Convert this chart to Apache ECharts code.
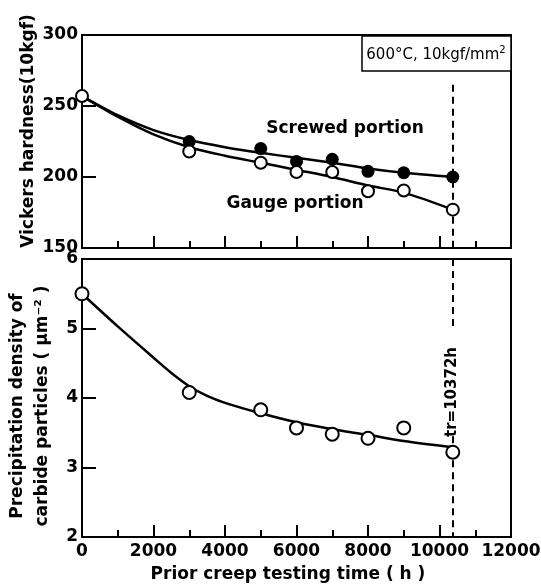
<!DOCTYPE html>
<html>
<head>
<meta charset="utf-8">
<script src="https://cdn.jsdelivr.net/npm/echarts@6/dist/echarts.min.js"></script>
<style>
  html, body { margin: 0; padding: 0; background: #fff; }
  #chart { width: 541px; height: 584px; }
</style>
</head>
<body>
<div id="chart"></div>
<script>
// x ticks (h)
const timeTicks = [0, 2000, 4000, 6000, 8000, 10000, 12000];
const ruptureTime = 10372;

// Vickers hardness, measured points
const screwedTimes = [3000, 5000, 6000, 7000, 8000, 9000, 10372];
const screwedHv = [225, 220, 211, 212.5, 204, 203, 200];
const gaugeTimes = [0, 3000, 5000, 6000, 7000, 8000, 9000, 10372];
const gaugeHv = [257, 218, 210, 203.5, 203.5, 190, 190.5, 177];

// hand-drawn fit curves
const fitTimes = [0, 1000, 2000, 3000, 4000, 5000, 6000, 7000, 8000, 9000, 10372];
const screwedFit = [257, 243.5, 233, 226, 221, 217, 213.5, 210, 206, 203, 200];
const gaugeFit = [257, 242.5, 230, 221, 215, 210, 205, 200, 194, 189, 177];

const densityFitTimes = [0, 1000, 2000, 2500, 3000, 3500, 4000, 5000, 6000, 7000, 8000, 9000, 10372];
const densityFit = [5.5, 5.03, 4.58, 4.36, 4.17, 4.03, 3.93, 3.78, 3.65, 3.55, 3.47, 3.38, 3.29];

// precipitation density of carbide particles
const densityTimes = [0, 3000, 5000, 6000, 7000, 8000, 9000, 10372];
const density = [5.5, 4.08, 3.83, 3.57, 3.48, 3.42, 3.57, 3.22];

const FONT = "DejaVu Sans";
const pair = (xs, ys) => xs.map((x, i) => [x, ys[i]]);

const chart = echarts.init(document.getElementById("chart"));

const xAxisBase = {
  type: "value",
  min: 0,
  max: 12000,
  interval: 2000,
  axisLine: { lineStyle: { color: "#000", width: 2 } },
  axisTick: { inside: true, length: 12, lineStyle: { color: "#000", width: 2 } },
  minorTick: { show: true, splitNumber: 2, length: 7, lineStyle: { color: "#000", width: 2 } },
  splitLine: { show: false },
};

const yAxisBase = {
  type: "value",
  axisLine: { show: true, lineStyle: { color: "#000", width: 2 } },
  axisTick: { inside: true, length: 14, lineStyle: { color: "#000", width: 2 } },
  splitLine: { show: false },
  axisLabel: { color: "#000", fontFamily: FONT, fontSize: 17, fontWeight: "bold", margin: 4 },
};

const ruptureLine = (from, to) => ({
  silent: true,
  symbol: "none",
  label: { show: false },
  lineStyle: { color: "#000", width: 2, type: [7, 5] },
  data: [[{ coord: [ruptureTime, from] }, { coord: [ruptureTime, to] }]],
});

const fitLine = { color: "#000", width: 2.5 };
const openDot = { color: "#fff", borderColor: "#000", borderWidth: 2, opacity: 1 };

const option = {
  animation: false,
  backgroundColor: "#fff",
  grid: [
    { left: 82, right: 30, top: 35, height: 213, outerBoundsMode: "none", show: true, borderColor: "#000", borderWidth: 2 },
    { left: 82, right: 30, top: 259, height: 278, outerBoundsMode: "none", show: true, borderColor: "#000", borderWidth: 2 },
  ],
  xAxis: [
    Object.assign({}, xAxisBase, { gridIndex: 0, axisLabel: { show: false } }),
    Object.assign({}, xAxisBase, {
      gridIndex: 1,
      axisLabel: {
        color: "#000", fontFamily: FONT, fontSize: 17, fontWeight: "bold", margin: 6,
        formatter: (v) => (timeTicks.includes(v) ? String(v) : ""),
      },
    }),
  ],
  yAxis: [
    Object.assign({}, yAxisBase, { gridIndex: 0, min: 150, max: 300, interval: 50 }),
    Object.assign({}, yAxisBase, { gridIndex: 1, min: 2, max: 6, interval: 1 }),
  ],
  series: [
    {
      name: "Screwed fit", type: "line", xAxisIndex: 0, yAxisIndex: 0,
      data: pair(fitTimes, screwedFit), smooth: 0.3, showSymbol: false,
      lineStyle: fitLine,
      markLine: ruptureLine(265, 150),
    },
    {
      name: "Gauge fit", type: "line", xAxisIndex: 0, yAxisIndex: 0,
      data: pair(fitTimes, gaugeFit), smooth: 0.3, showSymbol: false,
      lineStyle: fitLine,
    },
    {
      name: "Screwed portion", type: "scatter", xAxisIndex: 0, yAxisIndex: 0,
      data: pair(screwedTimes, screwedHv), symbol: "circle", symbolSize: 13,
      itemStyle: { color: "#000", opacity: 1 }, z: 5,
    },
    {
      name: "Gauge portion", type: "scatter", xAxisIndex: 0, yAxisIndex: 0,
      data: pair(gaugeTimes, gaugeHv), symbol: "circle", symbolSize: 12,
      itemStyle: openDot, z: 5,
    },
    {
      name: "Density fit", type: "line", xAxisIndex: 1, yAxisIndex: 1,
      data: pair(densityFitTimes, densityFit), smooth: 0.3, showSymbol: false,
      lineStyle: fitLine,
      markLine: ruptureLine(6, 5.02),
    },
    {
      name: "Density", type: "scatter", xAxisIndex: 1, yAxisIndex: 1,
      data: pair(densityTimes, density), symbol: "circle", symbolSize: 13,
      itemStyle: openDot, z: 5,
      markLine: ruptureLine(3.45, 2),
    },
  ],
  graphic: [
    // axis titles
    {
      type: "text", x: 29, y: 131, rotation: Math.PI / 2,
      style: { text: "Vickers hardness(10kgf)", font: "bold 17px " + FONT, fill: "#000", align: "center", verticalAlign: "middle" },
    },
    {
      type: "text", x: 30, y: 406, rotation: Math.PI / 2,
      style: {
        text: "Precipitation density of\ncarbide particles ( μm⁻² )",
        font: "bold 17px " + FONT, lineHeight: 25, fill: "#000", align: "center", verticalAlign: "middle",
      },
    },
    {
      type: "text", x: 288, y: 575,
      style: { text: "Prior creep testing time ( h )", font: "bold 17px " + FONT, fill: "#000", align: "center", verticalAlign: "middle" },
    },
    // curve labels
    {
      type: "text", x: 345, y: 129,
      style: { text: "Screwed portion", font: "bold 17px " + FONT, fill: "#000", align: "center", verticalAlign: "middle" },
    },
    {
      type: "text", x: 295, y: 204,
      style: { text: "Gauge portion", font: "bold 17px " + FONT, fill: "#000", align: "center", verticalAlign: "middle" },
    },
    // test condition box
    {
      type: "rect", shape: { x: 362, y: 36, width: 149, height: 35 },
      style: { fill: "#fff", stroke: "#000", lineWidth: 1.5 }, z: 10,
    },
    {
      type: "text", x: 436, y: 55, z: 11,
      style: {
        text: "{a|600°C, 10kgf/mm}{s|2}",
        align: "center", verticalAlign: "middle",
        rich: {
          a: { font: "15px " + FONT, fill: "#000" },
          s: { font: "10px " + FONT, fill: "#000", verticalAlign: "top", padding: [0, 0, 10, 0] },
        },
      },
    },
    // rupture time label
    {
      type: "text", x: 452, y: 392, rotation: Math.PI / 2,
      style: { text: "tr=10372h", font: "bold 15px " + FONT, fill: "#000", align: "center", verticalAlign: "middle" },
    },
  ],
};

chart.setOption(option);
</script>
</body>
</html>
